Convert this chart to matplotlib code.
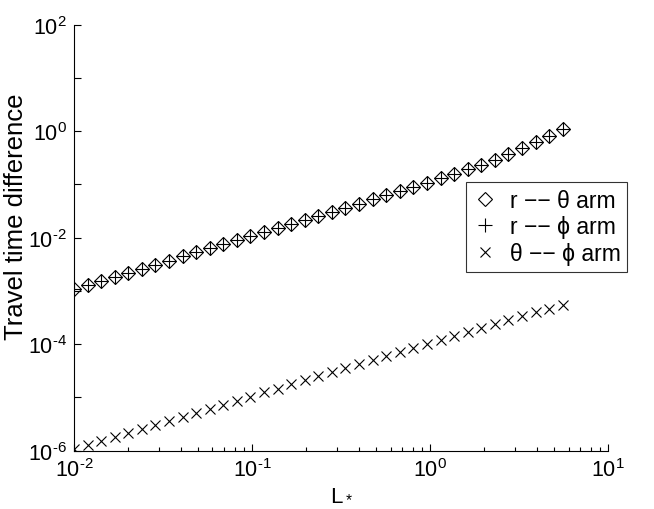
import matplotlib
matplotlib.use("Agg")
import matplotlib.pyplot as plt
import matplotlib.ticker as ticker
import numpy as np

plt.rcParams["font.family"] = ["Liberation Sans", "DejaVu Sans"]
plt.rcParams["mathtext.fontset"] = "custom"
plt.rcParams["mathtext.rm"] = "Liberation Sans"
plt.rcParams["mathtext.it"] = "Liberation Sans"
plt.rcParams["mathtext.default"] = "regular"

# arm length L (log spaced samples)
L = [0.0100, 0.01192, 0.01421, 0.01694, 0.02019, 0.02406, 0.02868, 0.03419,
     0.04075, 0.04857, 0.0579, 0.06901, 0.08226, 0.09804, 0.1169, 0.1393,
     0.1660, 0.1979, 0.2359, 0.2812, 0.3351, 0.3995, 0.4762, 0.5675,
     0.6765, 0.8064, 0.9611, 1.146, 1.366, 1.628, 1.940, 2.312,
     2.756, 3.285, 3.916, 4.668, 5.564]

r_theta = [1.09e-3, 1.30e-3, 1.55e-3, 1.85e-3, 2.20e-3, 2.62e-3, 3.13e-3, 3.73e-3,
           4.44e-3, 5.29e-3, 6.31e-3, 7.52e-3, 8.97e-3, 1.07e-2, 1.27e-2, 1.52e-2,
           1.81e-2, 2.16e-2, 2.57e-2, 3.07e-2, 3.66e-2, 4.37e-2, 5.22e-2, 6.24e-2,
           7.47e-2, 8.95e-2, 0.108, 0.130, 0.157, 0.191, 0.236, 0.294,
           0.372, 0.477, 0.620, 0.816, 1.10]

r_phi = [1.09e-3, 1.30e-3, 1.55e-3, 1.85e-3, 2.20e-3, 2.62e-3, 3.13e-3, 3.73e-3,
         4.44e-3, 5.29e-3, 6.31e-3, 7.52e-3, 8.97e-3, 1.07e-2, 1.27e-2, 1.52e-2,
         1.81e-2, 2.16e-2, 2.57e-2, 3.07e-2, 3.66e-2, 4.37e-2, 5.22e-2, 6.24e-2,
         7.47e-2, 8.95e-2, 0.108, 0.130, 0.157, 0.191, 0.236, 0.294,
         0.372, 0.477, 0.620, 0.816, 1.10]

theta_phi = [1.06e-6, 1.26e-6, 1.51e-6, 1.80e-6, 2.14e-6, 2.55e-6, 3.04e-6, 3.62e-6,
             4.32e-6, 5.15e-6, 6.14e-6, 7.31e-6, 8.72e-6, 1.04e-5, 1.24e-5, 1.47e-5,
             1.76e-5, 2.09e-5, 2.50e-5, 2.98e-5, 3.55e-5, 4.23e-5, 5.04e-5, 6.00e-5,
             7.15e-5, 8.50e-5, 1.01e-4, 1.20e-4, 1.425e-4, 1.69e-4, 2.00e-4, 2.37e-4,
             2.81e-4, 3.33e-4, 3.94e-4, 4.65e-4, 5.47e-4]

labels = ["r \u2212\u2212 \u03b8 arm", "r \u2212\u2212 \u03d5 arm", "\u03b8 \u2212\u2212 \u03d5 arm"]


def pow10_label(v, _):
    e = int(round(np.log10(v)))
    if e < 0:
        return r"$10^{\text{-}%d}$" % (-e)
    return r"$10^{%d}$" % e


fig = plt.figure(figsize=(6.54, 5.10), dpi=100)
ax = fig.add_axes([0.1131, 0.1143, 0.8166, 0.8353])

ax.loglog(L, r_theta, linestyle="none", marker="D", ms=7.5, mfc="none",
          mec="black", mew=0.8, label=labels[0])
ax.loglog(L, r_phi, linestyle="none", marker="+", ms=10, mec="black",
          mew=0.8, label=labels[1])
ax.loglog(L, theta_phi, linestyle="none", marker="x", ms=6.5, mec="black",
          mew=0.8, label=labels[2])

ax.set_xlim(1e-2, 1e1)
ax.set_ylim(1e-6, 1e2)

for side in ("top", "right"):
    ax.spines[side].set_visible(False)
for side in ("left", "bottom"):
    ax.spines[side].set_linewidth(0.8)

ax.xaxis.set_major_locator(ticker.LogLocator(base=10, numticks=10))
ax.xaxis.set_minor_locator(ticker.LogLocator(base=10, subs=range(2, 10), numticks=20))
ax.xaxis.set_major_formatter(ticker.FuncFormatter(pow10_label))
ax.xaxis.set_minor_formatter(ticker.NullFormatter())
ax.yaxis.set_major_locator(ticker.FixedLocator([1e-6, 1e-4, 1e-2, 1e0, 1e2]))
ax.yaxis.set_minor_locator(ticker.FixedLocator([1e-5, 1e-3, 1e-1, 1e1]))
ax.yaxis.set_major_formatter(ticker.FuncFormatter(pow10_label))
ax.yaxis.set_minor_formatter(ticker.NullFormatter())

ax.tick_params(which="both", direction="in", labelsize=15.5, width=0.8)
ax.tick_params(which="major", length=5)
ax.tick_params(axis="x", which="minor", length=3)
ax.tick_params(axis="y", which="minor", length=5)
ax.tick_params(axis="x", pad=5)
ax.tick_params(axis="y", pad=5)

ax.set_ylabel("Travel time difference", fontsize=18.5)
ax.yaxis.set_label_coords(-0.086, 0.551)
ax.set_xlabel("L$_*$", fontsize=16, labelpad=2)

leg = ax.legend(loc="upper left", bbox_to_anchor=(466 / 654, 1 - 183 / 510),
                bbox_transform=fig.transFigure, fontsize=16.5, frameon=True,
                fancybox=False, edgecolor="black", borderpad=0.3,
                handletextpad=0.5, handlelength=1.1, labelspacing=0.15,
                borderaxespad=0)
leg.get_frame().set_linewidth(0.8)

fig.savefig("out.png", dpi=100)
